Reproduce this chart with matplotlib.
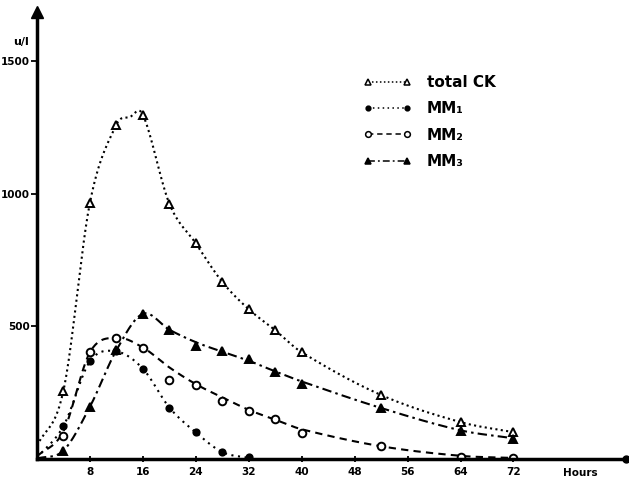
import numpy as np
import matplotlib.pyplot as plt

# ============================================================
# DATA (U/l vs hours)
# ============================================================

hours = [4, 8, 12, 16, 20, 24, 28, 32, 36, 40, 52, 64, 72]
total_ck = [258, 966, 1260, 1297, 962, 812, 667, 564, 485, 402, 241, 139, 101]
mm2 = [88, 402, 457, 419, 297, 278, 218, 180, 152, 99, 49, 8, 4]
mm3 = [32, 197, 410, 547, 487, 427, 406, 376, 327, 284, 192, 105, 75]

hours_mm1 = [4, 8, 12, 16, 20, 24, 28, 32]
mm1 = [124, 368, 405, 340, 194, 100, 26, 6]

# the hand-drawn curves (height of each curve at these hours)
curve_hours = [0, 4, 8, 12, 16, 20, 24, 28, 32, 36, 40, 52, 64, 72]
mm2_curve = [10, 105, 402, 457, 420, 345, 282, 232, 185, 148, 112, 48, 12, 4]
mm3_curve = [2, 32, 197, 410, 547, 487, 440, 404, 370, 330, 292, 192, 108, 78]

curve_hours_ck = [0, 4, 8, 12, 14, 16, 20, 24, 28, 32, 36, 40, 52, 64, 72]
total_ck_curve = [50, 258, 966, 1260, 1288, 1297, 962, 812, 667, 564, 485, 402, 241, 139, 101]

curve_hours_mm1 = [0, 4, 8, 12, 16, 20, 24, 28, 32]
mm1_curve = [5, 124, 368, 405, 340, 194, 100, 26, 4]

x_ticks = [8, 16, 24, 32, 40, 48, 56, 64, 72]
y_ticks = [500, 1000, 1500]


def smooth(x, y, n=25):
    # cubic Hermite with central-difference slopes (only for drawing the curve)
    x = np.asarray(x, float)
    y = np.asarray(y, float)
    h = np.diff(x)
    d = np.diff(y) / h
    m = np.empty_like(y)
    m[1:-1] = (y[2:] - y[:-2]) / (x[2:] - x[:-2])
    m[0] = d[0]
    m[-1] = d[-1]
    xs, ys = [], []
    for k in range(len(x) - 1):
        t = np.linspace(0, 1, n, endpoint=False)
        h00 = 2 * t**3 - 3 * t**2 + 1
        h10 = t**3 - 2 * t**2 + t
        h01 = -2 * t**3 + 3 * t**2
        h11 = t**3 - t**2
        xs.append(x[k] + t * h[k])
        ys.append(h00 * y[k] + h10 * h[k] * m[k] + h01 * y[k + 1] + h11 * h[k] * m[k + 1])
    xs.append([x[-1]])
    ys.append([y[-1]])
    return np.concatenate(xs), np.clip(np.concatenate(ys), 0, None)


fig = plt.figure(figsize=(6.29, 4.78), dpi=100)
ax = fig.add_axes([37 / 629, 19 / 478, 589 / 629, 447 / 478])

series = [
    (hours, total_ck, curve_hours_ck, total_ck_curve, (0, (1, 1.6)),
     dict(marker="^", ms=6, mfc="white"), "total CK"),
    (hours_mm1, mm1, curve_hours_mm1, mm1_curve, (0, (1, 2.2)),
     dict(marker="o", ms=4.5, mfc="black"), "MM\u2081"),
    (hours, mm2, curve_hours, mm2_curve, (0, (3.5, 2.5)),
     dict(marker="o", ms=5.5, mfc="white"), "MM\u2082"),
    (hours, mm3, curve_hours, mm3_curve, (0, (4.5, 2, 1.2, 2)),
     dict(marker="^", ms=6, mfc="black"), "MM\u2083"),
]

for px, py, cx, cy, ls, mk, lab in series:
    sx, sy = smooth(cx, cy)
    ax.plot(sx, sy, color="black", linestyle=ls, linewidth=1.5)
    ax.plot(px, py, linestyle="none", color="black", mec="black", mew=1.4, **mk)
    # legend proxy
    ax.plot([], [], color="black", linestyle=ls, linewidth=1.1, mec="black",
            mew=1.1, label=lab, **{**mk, "ms": mk["ms"] * 0.75})

ax.set_xlim(0, 89)
ax.set_ylim(0, 1684)

for s in ["top", "right"]:
    ax.spines[s].set_visible(False)
ax.spines["left"].set_linewidth(2.5)
ax.spines["bottom"].set_linewidth(2.5)

# arrow on the y axis, round end on the x axis
ax.plot([0], [1], marker="^", ms=9, color="black", transform=ax.transAxes, clip_on=False)
ax.plot([1], [0], marker="o", ms=5, color="black", transform=ax.transAxes, clip_on=False)

ax.set_xticks(x_ticks)
ax.set_xticklabels([str(t) for t in x_ticks], fontweight="bold", fontsize=7.5)
ax.set_yticks(y_ticks)
ax.set_yticklabels([str(t) for t in y_ticks], fontweight="bold", fontsize=7.5)
ax.tick_params(axis="x", direction="inout", length=5, width=1.3, pad=3)
ax.tick_params(axis="y", direction="out", length=4, width=1.3, pad=1)

fig.text(13 / 629, 1 - 42 / 478, "u/l", fontsize=8, fontweight="bold", ha="left", va="center")
fig.text(580 / 629, 1 - 473 / 478, "Hours", fontsize=7.5, fontweight="bold", ha="center", va="center")

ax.legend(loc="upper left", bbox_to_anchor=(0.53, 0.89), frameon=False, numpoints=2,
          handlelength=3.2, labelspacing=0.75, handletextpad=1.0,
          prop=dict(weight="bold", size=11))

fig.savefig("out.png", dpi=100)
